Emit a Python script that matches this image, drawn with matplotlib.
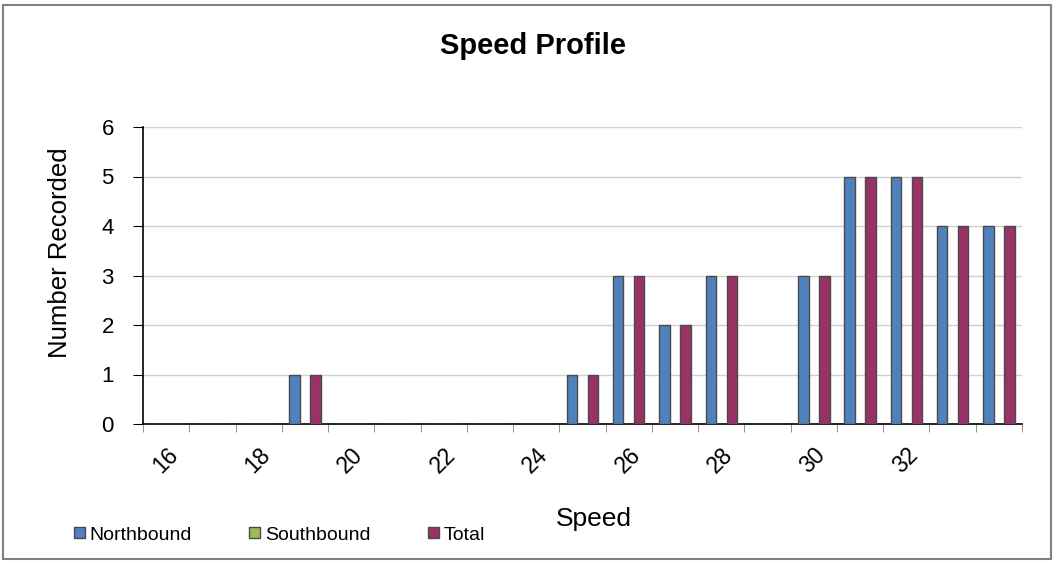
import matplotlib
matplotlib.use("Agg")
import matplotlib.pyplot as plt
import numpy as np
from matplotlib.patches import Rectangle, Patch

plt.rcParams['font.family'] = ['Liberation Sans', 'DejaVu Sans']

speeds = list(range(16, 35))
northbound = [0, 0, 0, 1, 0, 0, 0, 0, 0, 1, 3, 2, 3, 0, 3, 5, 5, 4, 4]
southbound = [0] * 19
total = [0, 0, 0, 1, 0, 0, 0, 0, 0, 1, 3, 2, 3, 0, 3, 5, 5, 4, 4]
series_names = ["Northbound", "Southbound", "Total"]
colors = ["#4F81BD", "#9BBB59", "#993366"]
shown_labels = ["16", "18", "20", "22", "24", "26", "28", "30", "32"]

W, H = 1057, 563
fig = plt.figure(figsize=(W / 100, H / 100), dpi=100)
ax = fig.add_axes([143 / W, 1 - 424 / H, (1022 - 143) / W, (424 - 127) / H])

x = np.arange(len(speeds))
bw = 0.225
off = 0.227
for i, vals in enumerate([northbound, southbound, total]):
    ax.bar(x + (i - 1) * off, vals, width=bw, color=colors[i],
           edgecolor="#4a4a4a", linewidth=1.0, zorder=3)

ax.set_xlim(-0.5, len(speeds) - 0.5)
ax.set_ylim(0, 6)
ax.set_yticks(range(0, 7))
ax.yaxis.grid(True, color="#d0d0d0", linewidth=1, zorder=0)
ax.tick_params(axis="y", labelsize=16, length=7, direction="out", pad=14)

# category boundaries as tick marks, labels every 2nd category
ax.set_xticks(np.arange(-0.5, len(speeds), 1), minor=True)
ax.set_xticks(np.arange(0, len(shown_labels) * 2, 2))
ax.set_xticklabels(shown_labels, rotation=45, ha="right", va="top",
                   rotation_mode="anchor", fontsize=16.5)
ax.tick_params(axis="x", which="major", length=0, pad=14)
ax.tick_params(axis="x", which="minor", length=6, color="#808080")

for s in ["top", "right"]:
    ax.spines[s].set_visible(False)
ax.spines["left"].set_linewidth(1.2)
ax.spines["bottom"].set_linewidth(1.2)

fig.text(533 / W, 1 - 46 / H, "Speed Profile", ha="center", va="center",
         fontsize=21, fontweight="bold")
fig.text(594 / W, 1 - 519 / H, "Speed", ha="center", va="center", fontsize=19)
fig.text(60 / W, 1 - 253 / H, "Number Recorded", ha="center", va="center",
         fontsize=18.5, rotation=90)

handles = [Patch(facecolor=c, edgecolor="#4a4a4a", linewidth=1.0) for c in colors]
fig.legend(handles, series_names, loc="center left",
           bbox_to_anchor=(74 / W, 1 - 535 / H), ncol=3, frameon=False,
           fontsize=14, handlelength=0.55, handleheight=0.55,
           handletextpad=0.26, columnspacing=2.95, borderpad=0, borderaxespad=0)

fig.patches.append(Rectangle((3 / W, 4 / H), (1051 - 3) / W, (558 - 4) / H,
                             transform=fig.transFigure, fill=False,
                             edgecolor="#808080", linewidth=1.5))

fig.savefig("out.png", dpi=100)
